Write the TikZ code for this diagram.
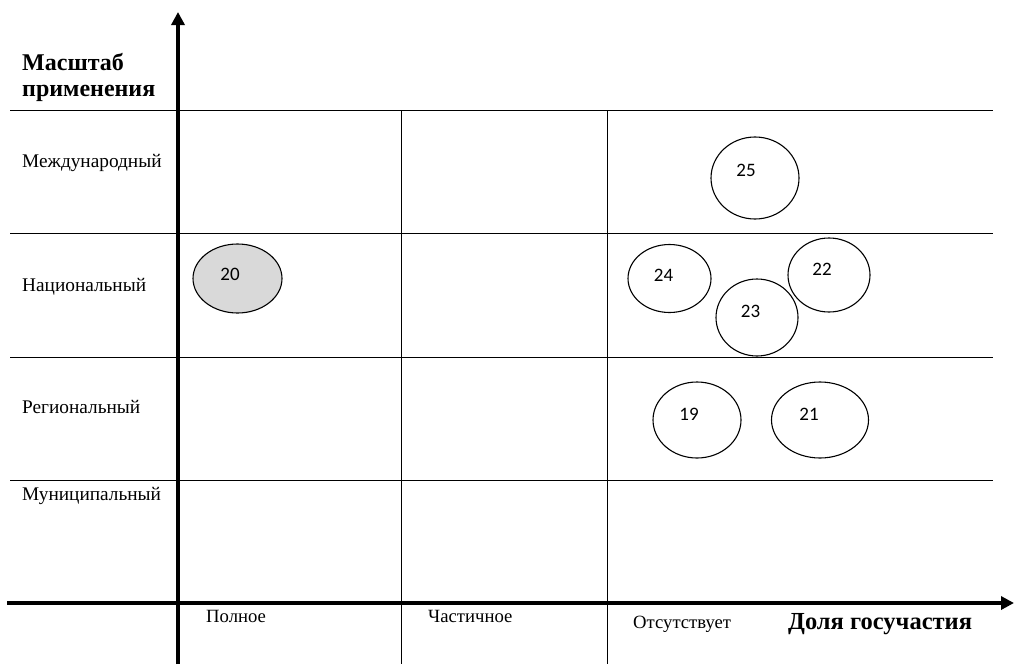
\documentclass[tikz,border=0pt]{standalone}
\usepackage{fontspec}
\setmainfont{Liberation Serif}
\newfontfamily\numfont{Carlito}
\usetikzlibrary{shapes.geometric,arrows.meta,calc}
\tikzset{
  gridline/.style={line width=0.9pt, black},
  axisline/.style={line width=3.5pt, black, -{Triangle[length=13pt,width=13pt]}},
  bubble/.style={ellipse, draw, line width=1.1pt, inner sep=0pt},
  numtxt/.style={font=\numfont\fontsize{19}{21}\selectfont, inner sep=0pt},
  rowlab/.style={anchor=base west, inner sep=0pt, font=\fontsize{19.3}{22}\selectfont},
  collab/.style={anchor=base west, inner sep=0pt, font=\fontsize{18.7}{22}\selectfont},
  headlab/.style={anchor=base west, inner sep=0pt, align=left, font=\bfseries\fontsize{24}{26}\selectfont}
}
\begin{document}
\begin{tikzpicture}[x=1pt,y=-1pt]
\useasboundingbox (0,0) rectangle (1014,664);
% grid coordinates
\coordinate (h1l) at (10,110); \coordinate (h1r) at (993,110);
\coordinate (h2l) at (10,233); \coordinate (h2r) at (993,233);
\coordinate (h3l) at (10,357); \coordinate (h3r) at (993,357);
\coordinate (h4l) at (10,480); \coordinate (h4r) at (993,480);
\coordinate (v1t) at (401,110); \coordinate (v1b) at (401,664);
\coordinate (v2t) at (607,110); \coordinate (v2b) at (607,664);
\draw[gridline] (h1l) -- (h1r);
\draw[gridline] (h2l) -- (h2r);
\draw[gridline] (h3l) -- (h3r);
\draw[gridline] (h4l) -- (h4r);
\draw[gridline] (v1t) -- (v1b);
\draw[gridline] (v2t) -- (v2b);
% axes
\coordinate (yb) at (178,664); \coordinate (yt) at (178,12);
\coordinate (xl) at (7,603); \coordinate (xr) at (1014,603);
\draw[axisline] (yb) -- (yt);
\draw[axisline] (xl) -- (xr);
% headings
\node[headlab] (ytitle) at (22,96) {Масштаб\\применения};
\node[anchor=base west, inner sep=0pt, font=\bfseries\fontsize{24.5}{26}\selectfont] (xtitle) at (788,629) {Доля госучастия};
% row labels
\node[rowlab] (r1) at (22,167) {Международный};
\node[rowlab] (r2) at (22,291) {Национальный};
\node[rowlab] (r3) at (22,413) {Региональный};
\node[rowlab] (r4) at (22,500) {Муниципальный};
% column labels
\node[collab] (c1) at (206,622) {Полное};
\node[collab] (c2) at (428,622) {Частичное};
\node[collab] (c3) at (633,628) {Отсутствует};
% bubbles
\node[bubble, minimum width=88pt, minimum height=82pt] (b25) at (755,178) {};
\node[bubble, minimum width=83pt, minimum height=68pt] (b24) at (669.5,278.5) {};
\node[bubble, minimum width=82pt, minimum height=74pt] (b22) at (829,275) {};
\node[bubble, minimum width=82pt, minimum height=77pt] (b23) at (757,317.5) {};
\node[bubble, fill={rgb,255:red,217;green,217;blue,217}, minimum width=89pt, minimum height=69pt] (b20) at (237.5,278.5) {};
\node[bubble, minimum width=88pt, minimum height=76pt] (b19) at (697,420) {};
\node[bubble, minimum width=97pt, minimum height=76pt] (b21) at (820,420) {};
\node[numtxt] (t25) at ($(b25.center)+(-9,-8)$) {25};
\node[numtxt] (t24) at ($(b24.center)+(-6,-3.5)$) {24};
\node[numtxt] (t22) at ($(b22.center)+(-7,-6)$) {22};
\node[numtxt] (t23) at ($(b23.center)+(-6.5,-6.5)$) {23};
\node[numtxt] (t20) at ($(b20.center)+(-7.5,-4)$) {20};
\node[numtxt] (t19) at ($(b19.center)+(-8,-6)$) {19};
\node[numtxt] (t21) at ($(b21.center)+(-11,-6)$) {21};
\end{tikzpicture}
\end{document}
